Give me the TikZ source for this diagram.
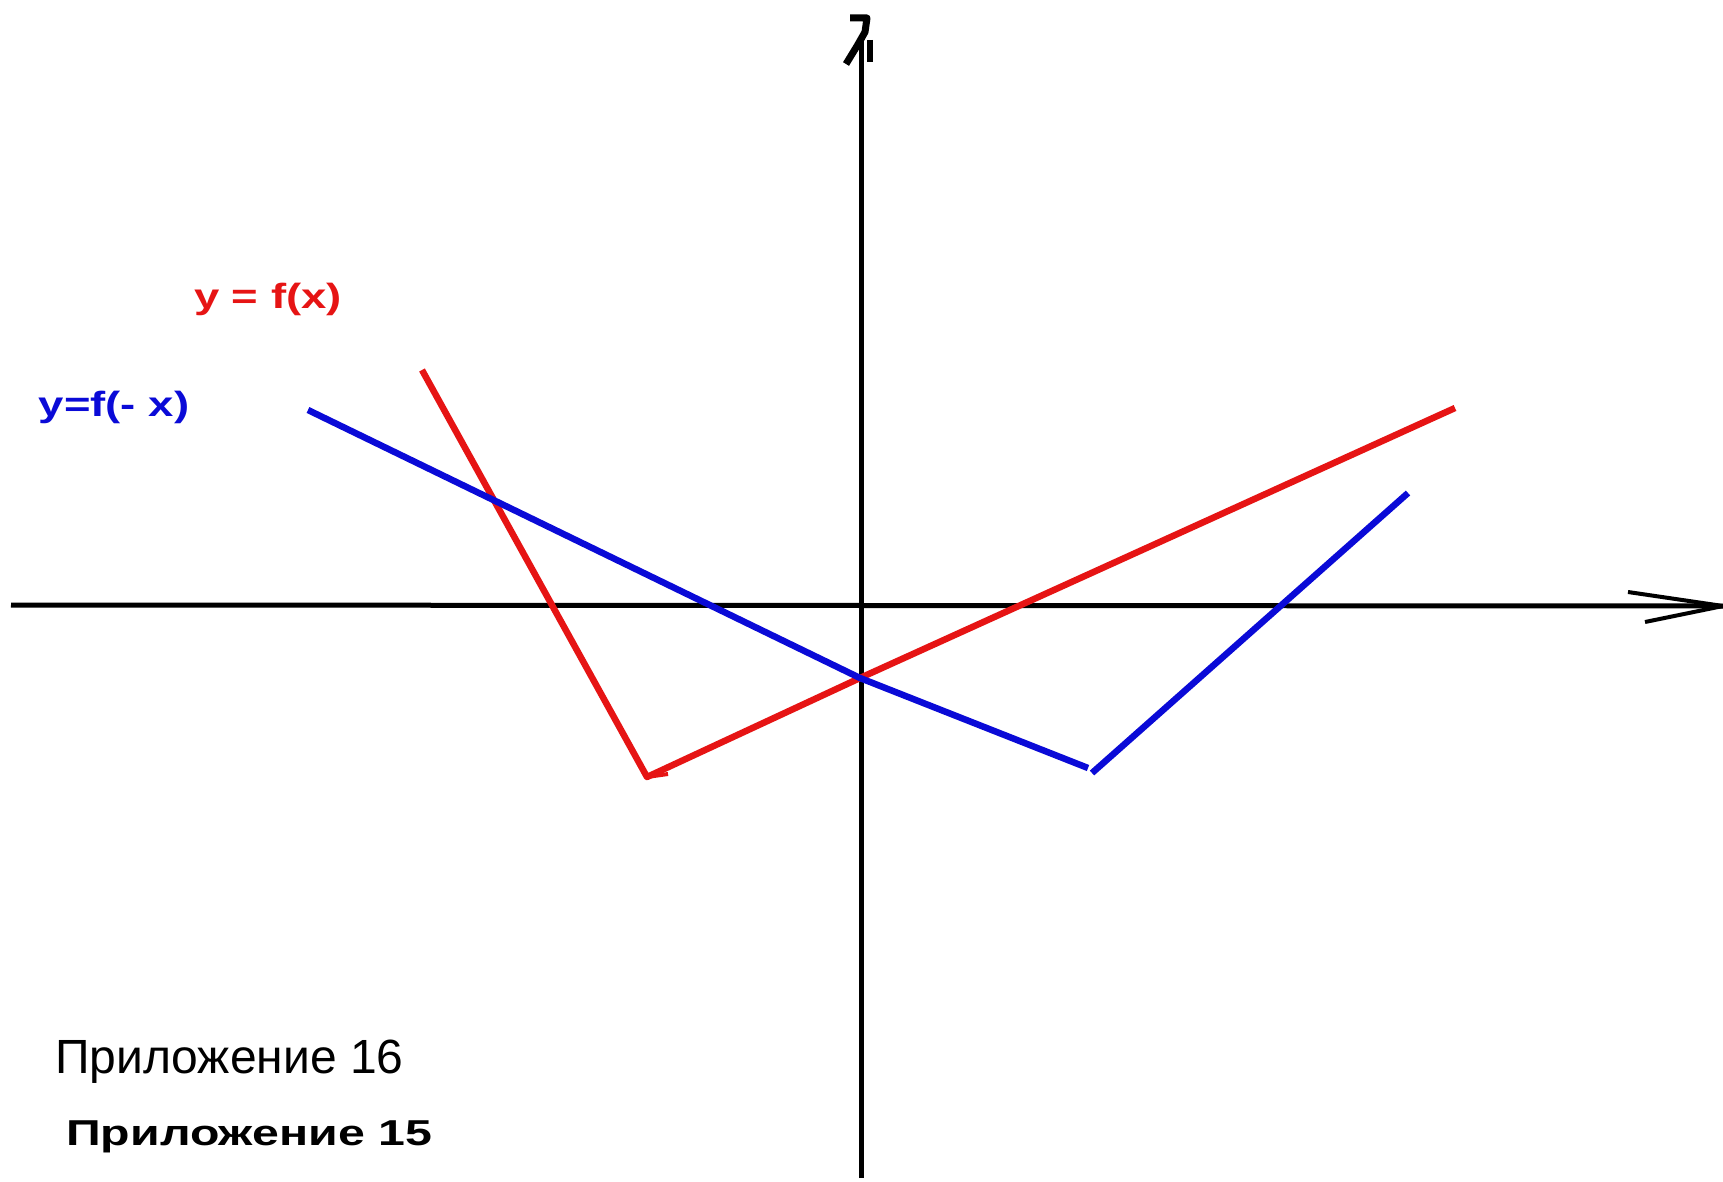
\documentclass[tikz,border=0pt]{standalone}
\usepackage{fontspec}
\usepackage{graphicx}
\setmainfont{Liberation Sans}
\definecolor{cred}{RGB}{230,20,20}
\definecolor{cblue}{RGB}{10,10,215}
\tikzset{
  axisline/.style={line width=5pt, black},
  redline/.style={line width=6.5pt, cred, line join=round},
  blueline/.style={line width=6.5pt, cblue, line join=round},
  lbl/.style={inner sep=0pt, font=\bfseries\fontsize{35}{37}\selectfont},
  captext/.style={inner sep=0pt, anchor=base west}
}
\begin{document}
\begin{tikzpicture}[x=1pt,y=-1pt]
\useasboundingbox[fill=white] (0,0) rectangle (1723,1182);
% axes
\coordinate (xl) at (11,605);
\coordinate (xr) at (1723,606);
\coordinate (xa1) at (1628,592);
\coordinate (xa2) at (1645,622);
\coordinate (yb) at (861,1178);
\coordinate (yt) at (861,40);
\draw[axisline] (xl) -- (xr);
\draw[axisline, line width=4pt] (xa1) -- (xr) (xa2) -- (xr);
\draw[axisline] (yb) -- (yt);
\coordinate (h1) at (850,18);
\coordinate (h2) at (867,18);
\coordinate (h3) at (865,32);
\coordinate (h4) at (857,46);
\coordinate (h5) at (846,64);
\coordinate (b1) at (870,40);
\coordinate (b2) at (870,62);
\draw[axisline, line width=7pt, line join=round] (h1) -- (h2) -- (h3) -- (h4) -- (h5);
\draw[axisline, line width=6pt] (yt) -- (h3);
\draw[axisline, line width=5.5pt] (b1) -- (b2);
% red graph
\coordinate (r1) at (422,370);
\coordinate (r2) at (647,777);
\coordinate (r3) at (860,678);
\coordinate (r4) at (1455,408);
\coordinate (rt) at (668,774);
\draw[redline] (r1) -- (r2) -- (r3) -- (r4);
\draw[redline, line width=4pt] (r2) -- (rt);
% blue graph
\coordinate (b0) at (308,410);
\coordinate (bm) at (860,678);
\coordinate (bv) at (1088,768);
\coordinate (bw) at (1092,773);
\coordinate (be) at (1408,493);
\draw[blueline] (b0) -- (bm) -- (bv);
\draw[blueline] (bw) -- (be);
% labels
\node[lbl, text=cred] (lf) at (268,299) {\scalebox{1.3}[1]{y = f(x)}};
\node[lbl, text=cblue] (lg) at (114,407) {\scalebox{1.3}[1]{y=f(- x)}};
\node[captext, font=\fontsize{48}{50}\selectfont] (p16) at (55,1073) {Приложение 16};
\node[captext, font=\bfseries\fontsize{36}{38}\selectfont] (p15) at (66,1145) {\scalebox{1.34}[1]{Приложение 15}};
\end{tikzpicture}
\end{document}
